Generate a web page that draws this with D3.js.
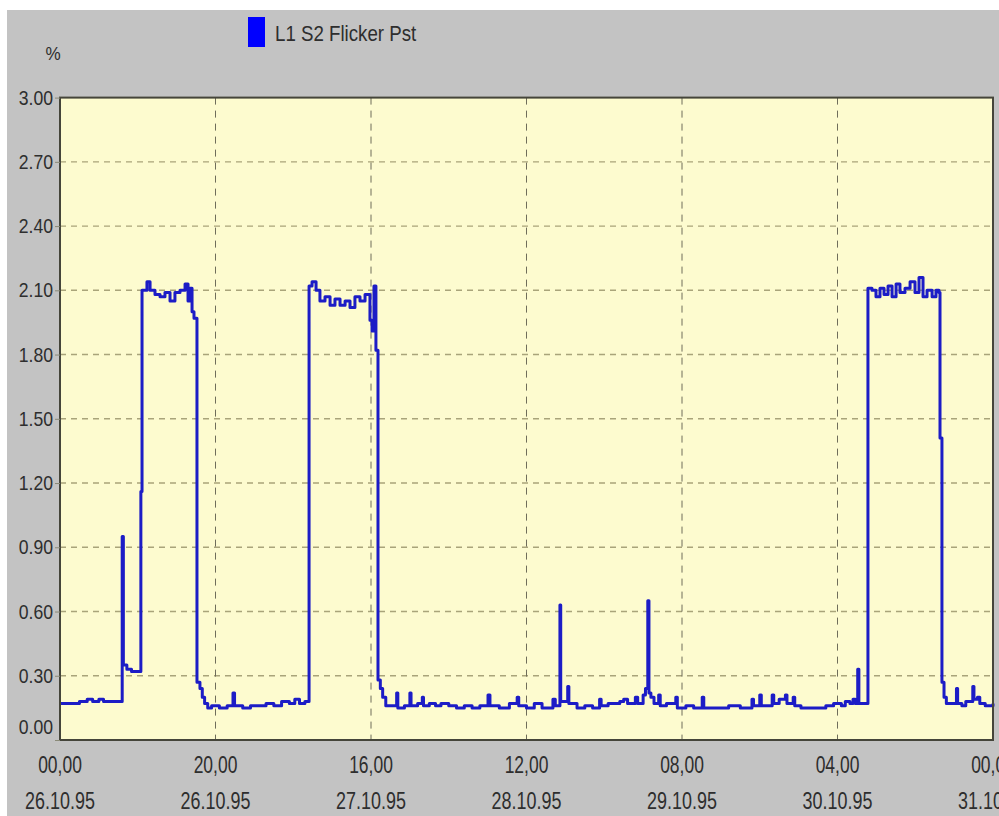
<!DOCTYPE html>
<meta charset="utf-8">

<style>
	body {
		margin: 0;
		background: white;
	}
	svg {
		display: block;
	}
	text {
		font-family: "Liberation Sans", Arial, sans-serif;
		fill: #2e2e2e;
	}
</style>

<script src="https://d3js.org/d3.v7.min.js"></script>

<body>
	<div id="chart"></div>

	<script>
		// time in hours after 26.10.95 00:00, flicker Pst in %
		var hours = [
			0, 1.5, 2.5, 3.5, 4.2, 5.0, 5.6, 6.5, 8.0, 8.15, 8.6, 9.2, 10.4,
			10.55, 11.19, 11.58, 12.22, 12.86, 13.5, 14.15, 14.79, 15.43, 16.08, 16.46, 16.72, 16.98, 17.23,
			17.62, 18.0, 18.3, 18.6, 19.0, 19.5, 20.5, 21.5, 22.25, 22.45, 23.5, 24.5, 25.5, 26.5, 27.5,
			28.5, 29.5, 30.2, 30.8, 31.5,
			32.03, 32.41, 32.93, 33.44, 34.08, 34.73, 35.37, 36.01, 36.66, 37.3, 37.94, 38.59, 39.23,
			39.87, 40.13, 40.39, 40.64,
			40.9, 41.2, 41.5, 41.9, 43.3, 43.45, 44.3, 45.0, 45.15, 46.0, 46.6, 46.75, 47.5, 48.3, 49.0,
			50.0, 51.0, 52.0, 53.0, 54.0, 55.05, 55.3, 56.5, 57.8, 58.8, 59.0, 60.0, 61.0, 62.0, 63.4,
			63.7, 64.3, 64.4, 65.3, 65.45, 66.5, 67.5, 68.5, 69.4, 69.6, 70.5, 72.0, 72.5, 73.0, 74.0,
			74.3, 75.0, 75.3, 75.6, 75.75, 76.0, 76.4, 77.0, 77.2, 78.0, 79.2, 79.4, 80.5, 81.5, 82.6,
			82.8, 84.0, 85.0, 86.0, 87.5, 89.0, 89.2, 90.0, 90.2, 91.6, 91.8, 92.5, 93.3, 93.5, 94.3,
			94.5, 95.3, 96.5, 97.5, 98.5, 99.5, 100.5, 101.0, 101.6, 102.0, 102.3, 102.6, 102.75, 103.5,
			103.92, 104.44, 104.95, 105.47, 105.98, 106.5, 107.01, 107.53, 108.04, 108.68, 109.33,
			109.97, 110.48, 111.0, 111.51, 112.16, 112.67, 113.05, 113.18,
			113.44, 113.7, 114.0, 114.8, 115.3, 115.45, 116.0, 116.5, 117.4, 117.55, 118.0, 118.3,
			119.0, 120
		];
		var pst = [
			0.17, 0.17, 0.18, 0.19, 0.18, 0.19, 0.18, 0.18, 0.95, 0.35, 0.33, 0.32, 1.16,
			2.10, 2.14, 2.10, 2.08, 2.07, 2.09, 2.05, 2.09, 2.10, 2.13, 2.05, 2.11, 2.00, 1.97,
			0.27, 0.24, 0.20, 0.17, 0.15, 0.16, 0.15, 0.16, 0.22, 0.16, 0.15, 0.16, 0.16, 0.17, 0.16,
			0.18, 0.17, 0.19, 0.17, 0.18,
			2.12, 2.14, 2.10, 2.05, 2.07, 2.03, 2.06, 2.03, 2.05, 2.02, 2.07, 2.05, 2.08,
			1.96, 1.91, 2.12, 1.82,
			0.28, 0.24, 0.20, 0.16, 0.22, 0.15, 0.16, 0.22, 0.16, 0.17, 0.20, 0.16, 0.17, 0.16, 0.17,
			0.16, 0.15, 0.16, 0.15, 0.16, 0.21, 0.16, 0.15, 0.17, 0.20, 0.16, 0.15, 0.17, 0.15, 0.19,
			0.16, 0.63, 0.18, 0.25, 0.17, 0.15, 0.16, 0.15, 0.19, 0.16, 0.17, 0.18, 0.19, 0.17, 0.20,
			0.17, 0.21, 0.24, 0.65, 0.22, 0.20, 0.17, 0.21, 0.16, 0.17, 0.20, 0.15, 0.16, 0.15, 0.20,
			0.15, 0.15, 0.15, 0.16, 0.15, 0.19, 0.16, 0.21, 0.16, 0.21, 0.17, 0.19, 0.21, 0.17, 0.20,
			0.16, 0.15, 0.15, 0.15, 0.16, 0.17, 0.16, 0.18, 0.17, 0.19, 0.17, 0.33, 0.17, 0.17,
			2.11, 2.10, 2.07, 2.11, 2.08, 2.12, 2.07, 2.13, 2.09, 2.11, 2.14,
			2.09, 2.16, 2.07, 2.10, 2.07, 2.10, 2.09, 1.41,
			0.27, 0.20, 0.17, 0.17, 0.24, 0.17, 0.16, 0.18, 0.25, 0.19, 0.20, 0.17,
			0.16, 0.17
		];
		var yTicks = [0, 0.3, 0.6, 0.9, 1.2, 1.5, 1.8, 2.1, 2.4, 2.7, 3.0];
		var tickHours = [0, 20, 40, 60, 80, 100, 120];
		var seriesName = "L1 S2 Flicker Pst";
		var unitLabel = "%";

		var width = 999;
		var height = 816;
		// note: "top" is taken by window.top, so use plot* names
		var plotLeft = 60, plotRight = 993, plotTop = 97.6, plotBottom = 740;

		var start = new Date(1995, 9, 26, 0, 0);
		var data = hours.map(function(h, i) {
			return {t: d3.timeMinute.offset(start, Math.round(h * 60)), v: pst[i]};
		});

		var svg = d3.select("#chart").append("svg")
			.attr("width", width)
			.attr("height", height);

		// grey window with thin white margin at the top-left
		svg.append("rect")
			.attr("x", 7)
			.attr("y", 10)
			.attr("width", width - 7)
			.attr("height", height - 10)
			.attr("fill", "#c3c3c3");

		var x = d3.scaleTime()
			.domain([start, d3.timeHour.offset(start, 120)])
			.range([plotLeft, plotRight]);

		var y = d3.scaleLinear()
			.domain([0, 3])
			.range([plotBottom, plotTop]);

		svg.append("rect")
			.attr("x", plotLeft)
			.attr("y", plotTop)
			.attr("width", plotRight - plotLeft)
			.attr("height", plotBottom - plotTop)
			.attr("fill", "#fdfbcf");

		// horizontal grid
		svg.append("g")
			.selectAll("line")
			.data(yTicks.slice(1, -1))
			.enter().append("line")
			.attr("x1", plotLeft)
			.attr("x2", plotRight)
			.attr("y1", function(d) {return y(d)})
			.attr("y2", function(d) {return y(d)})
			.attr("stroke", "#a9a47a")
			.attr("stroke-width", 1.4)
			.attr("stroke-dasharray", "6,5");

		// vertical grid
		var tickDates = tickHours.map(function(h) {return d3.timeHour.offset(start, h)});
		svg.append("g")
			.selectAll("line")
			.data(tickDates.slice(1, -1))
			.enter().append("line")
			.attr("x1", function(d) {return x(d)})
			.attr("x2", function(d) {return x(d)})
			.attr("y1", plotTop)
			.attr("y2", plotBottom)
			.attr("stroke", "#6f6d5a")
			.attr("stroke-width", 1)
			.attr("stroke-dasharray", "7,6");

		// the trace
		var line = d3.line()
			.curve(d3.curveStepAfter)
			.x(function(d) {return x(d.t)})
			.y(function(d) {return y(d.v)});

		svg.append("path")
			.datum(data)
			.attr("d", line)
			.attr("fill", "none")
			.attr("stroke", "#1c1cc6")
			.attr("stroke-width", 3)
			.attr("stroke-linejoin", "round");

		// frame
		svg.append("rect")
			.attr("x", plotLeft)
			.attr("y", plotTop)
			.attr("width", plotRight - plotLeft)
			.attr("height", plotBottom - plotTop)
			.attr("fill", "none")
			.attr("stroke", "#45453a")
			.attr("stroke-width", 2);

		// narrow text: normal font squeezed sideways
		function narrowText(g, px, py, str, size, sx, anchor) {
			return g.append("g")
				.attr("transform", "translate(" + px + "," + py + ") scale(" + sx + ",1)")
				.append("text")
				.attr("text-anchor", anchor || "start")
				.attr("font-size", size)
				.text(str);
		}

		// y axis
		var yAxis = svg.append("g")
			.attr("transform", "translate(" + plotLeft + ",0)")
			.call(d3.axisLeft(y).tickValues(yTicks).tickSize(5).tickFormat(""));
		yAxis.select(".domain").remove();
		yAxis.selectAll(".tick line").attr("stroke", "#8a8a78");

		var fmt = d3.format(".2f");
		var yLabels = svg.append("g");
		yTicks.forEach(function(v) {
			var py = Math.min(y(v), 727) + 7;
			narrowText(yLabels, 53, py, fmt(v), 20, 0.88, "end");
		});

		// x axis, two rows of labels
		var xLabels = svg.append("g");
		var timeFmt = d3.timeFormat("%H,%M");
		var dateFmt = d3.timeFormat("%d.%m.%y");
		tickDates.forEach(function(d) {
			narrowText(xLabels, x(d), 773, timeFmt(d), 23, 0.76, "middle");
			narrowText(xLabels, x(d), 809, dateFmt(d), 23, 0.78, "middle");
		});

		// unit and legend
		narrowText(svg, 53, 60, unitLabel, 19, 0.9, "middle");

		svg.append("rect")
			.attr("x", 248)
			.attr("y", 17)
			.attr("width", 17)
			.attr("height", 30)
			.attr("fill", "#0000ff");
		narrowText(svg, 275, 41, seriesName, 22, 0.85, "start");
	</script>

</body>
